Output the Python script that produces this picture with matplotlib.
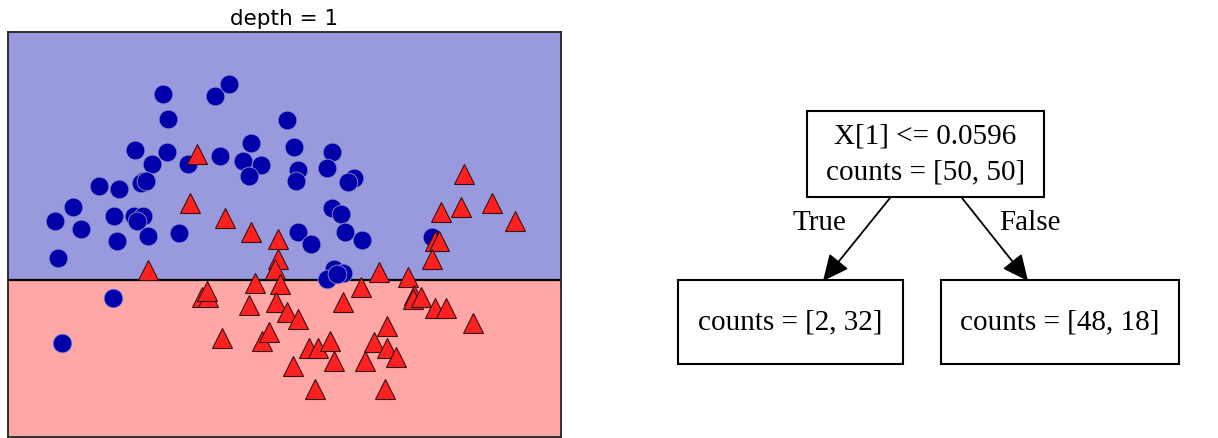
import matplotlib
matplotlib.use("Agg")
import matplotlib.pyplot as plt
import numpy as np
from matplotlib.patches import Rectangle

# two-moons style points
blue_x = [-0.38, 0.00, 0.10, -0.34, -0.58, -0.35, -0.46, -0.20, 0.03, 0.26,
          0.20, 0.33, 0.24, -0.52, -0.54, -0.84, -0.70, -1.03, -1.16, -0.97,
          -0.73, -0.59, -0.52, -0.57, -0.71, -0.49, -0.26, -1.14, 0.52, 0.57,
          0.84, 0.60, 0.58, 0.81, 1.00, 0.96, 0.84, 0.91, 0.60, 0.69,
          0.94, 1.06, 1.57, 0.86, 0.92, 0.81, 0.88, -0.50, -0.74, -1.11]
blue_y = [1.41, 1.39, 1.48, 1.23, 1.00, 0.99, 0.90, 0.90, 0.96, 1.05,
          0.92, 0.89, 0.81, 0.78, 0.76, 0.74, 0.72, 0.59, 0.49, 0.43,
          0.52, 0.52, 0.52, 0.49, 0.34, 0.38, 0.40, 0.22, 1.22, 1.02,
          0.99, 0.86, 0.78, 0.87, 0.80, 0.77, 0.58, 0.54, 0.41, 0.32,
          0.41, 0.35, 0.37, 0.14, 0.11, 0.07, 0.10, 0.78, -0.07, -0.40]
red_x = [-0.13, -0.18, 0.07, 0.26, 0.45, -0.49, 0.45, 0.43, 1.80, 1.78,
         2.00, 2.17, 1.63, 1.59, 1.62, 1.57, 1.18, 1.39,
         0.29, 0.47, -0.10, -0.05, -0.06, 0.24, 0.44, 0.52, 0.60, 0.92,
         1.05, 1.44, 1.43, 1.49, 1.59, 1.67, 1.86, 1.24, 0.05, 0.34,
         0.39, 0.68, 0.74, 0.83, 1.15, 1.24, 1.31, 0.56, 0.86, 1.08,
         0.72, 1.23]
red_y = [0.97, 0.62, 0.51, 0.41, 0.36, 0.13, 0.21, 0.14, 0.83, 0.59,
         0.62, 0.49, 0.55, 0.34, 0.34, 0.21, 0.12, 0.08,
         0.04, 0.03, -0.06, -0.06, -0.02, -0.12, -0.10, -0.17, -0.22, -0.10,
         0.01, -0.05, -0.08, -0.06, -0.14, -0.14, -0.25, -0.27, -0.36, -0.38,
         -0.32, -0.43, -0.43, -0.38, -0.39, -0.43, -0.50, -0.56, -0.53, -0.53,
         -0.73, -0.73]

threshold = 0.0596
xlim = (-1.5, 2.5)
ylim = (-1.078, 1.857)

root_lines = ["X[1] <= 0.0596", "counts = [50, 50]"]
leaf_labels = ["counts = [2, 32]", "counts = [48, 18]"]
edge_labels = ["True", "False"]

fig = plt.figure(figsize=(12.18, 4.39), dpi=100)
W, H = 1218.0, 439.0

# ---- partition plot ----
ax = fig.add_axes([8 / W, 1 / H, 553 / W, 405 / H])
ax.axhspan(ylim[0], threshold, color="#ffa6a6", lw=0)
ax.axhspan(threshold, ylim[1], color="#9999dd", lw=0)
ax.axhline(threshold, color="k", lw=1.6)
ax.plot(blue_x, blue_y, "o", ms=13.5, color="#0000aa",
        mec="#8f8fd0", mew=0.6, ls="none")
ax.plot(red_x, red_y, "^", ms=14.5, color="#ff2020",
        mec="#3a1010", mew=0.8, ls="none")
ax.set_xlim(xlim)
ax.set_ylim(ylim)
ax.set_xticks([])
ax.set_yticks([])
for s in ax.spines.values():
    s.set_linewidth(1.3)
    s.set_color("#222222")
ax.set_title("depth = 1", fontsize=15.5, pad=6)

# ---- tree drawing ----
tx = fig.add_axes([600 / W, 0, 618 / W, 1])
tx.set_xlim(600, 1218)
tx.set_ylim(439, 0)
tx.axis("off")

serif = "Liberation Serif"
fs = 21

tx.add_patch(Rectangle((807, 112), 237, 86, fill=False, lw=1.5, ec="k"))
tx.text(925.5, 137, root_lines[0], ha="center", va="center", fontsize=fs, family=serif)
tx.text(925.5, 172, root_lines[1], ha="center", va="center", fontsize=fs, family=serif)

leaves = [(678, 903), (941, 1179)]
for (x0, x1), lab in zip(leaves, leaf_labels):
    tx.add_patch(Rectangle((x0, 281), x1 - x0, 84, fill=False, lw=1.5, ec="k"))
    tx.text((x0 + x1) / 2, 322, lab, ha="center", va="center", fontsize=fs, family=serif)

arrows = [((890, 199), (823, 282)), ((962, 199), (1028, 282))]
for (start, end) in arrows:
    tx.annotate("", xy=end, xytext=start,
                arrowprops=dict(arrowstyle="-|>,head_length=1.6,head_width=0.75",
                                color="k", lw=1.3, shrinkA=0, shrinkB=0))
tx.text(819, 223, edge_labels[0], ha="center", va="center", fontsize=fs, family=serif)
tx.text(1030, 223, edge_labels[1], ha="center", va="center", fontsize=fs, family=serif)

fig.savefig("out.png", dpi=100)
